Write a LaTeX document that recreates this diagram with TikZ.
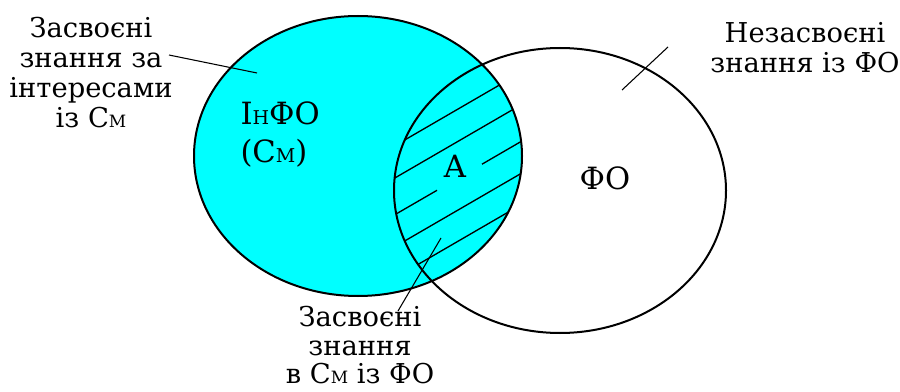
\documentclass[tikz,border=0pt]{standalone}
\usepackage{fontspec}
\setmainfont{DejaVu Serif}
\usepackage{graphicx}
\definecolor{aqua}{RGB}{0,255,255}
\newcommand{\lowcap}[1]{\scalebox{0.62}{#1}}
\begin{document}
\begin{tikzpicture}[x=0.75pt, y=-0.75pt, thick,
    side/.style={align=center, font=\fontsize{20.5}{22.5}\selectfont, inner sep=0pt},
    inner/.style={align=left, font=\fontsize{23}{29}\selectfont, inner sep=0pt},
    venn/.style={line width=1.5pt},
    hatch/.style={line width=1pt},
    leader/.style={line width=0.8pt}]
  \useasboundingbox (0,0) rectangle (900,392);

  % 1. заливка лівого еліпса
  \fill[aqua] (358,156) ellipse [x radius=164, y radius=140];

  % 2. штрихування перетину А
  \begin{scope}
    \clip (358,156) ellipse [x radius=164, y radius=140];
    \clip (560,190.5) ellipse [x radius=166, y radius=142.5];
    \foreach \yy in {142.7,175,243.7,274.9}
      \draw[hatch] (380,\yy+11.6) -- (540,\yy-81.2);
    \draw[hatch] (380,223.3) -- (437,190.3);
    \draw[hatch] (482,164.2) -- (540,130.5);
  \end{scope}

  % 3. контури еліпсів
  \draw[venn] (358,156) ellipse [x radius=164, y radius=140];
  \draw[venn] (560,190.5) ellipse [x radius=166, y radius=142.5];

  % 4. написи
  \node[side, anchor=north] (knowL) at (91,17) {Засвоєні\\знання за\\інтересами\\із С\lowcap{М}};
  \node[side, anchor=north] (knowR) at (805,22) {Незасвоєні\\знання із ФО};
  \node[side, anchor=north, font=\fontsize{20.5}{21.4}\selectfont] (knowA) at (360,306)
    {Засвоєні\\знання\\в С\lowcap{М} із ФО};
  \node[inner, anchor=north west] (lblIFO) at (240,101) {І\lowcap{Н}ФО\\(С\lowcap{М})};
  \node[inner] (lblA) at (455,166) {A};
  \node[inner] (lblFO) at (605,178) {ФО};

  % 5. виноски
  \coordinate (pL1) at (169,55);
  \coordinate (pL2) at (257,73);
  \coordinate (pR1) at (622,90);
  \coordinate (pR2) at (668,47);
  \coordinate (pA1) at (441,238);
  \coordinate (pA2) at (398,311);
  \draw[leader] (pL1) -- (pL2);
  \draw[leader] (pR1) -- (pR2);
  \draw[leader] (pA1) -- (pA2);
\end{tikzpicture}
\end{document}
